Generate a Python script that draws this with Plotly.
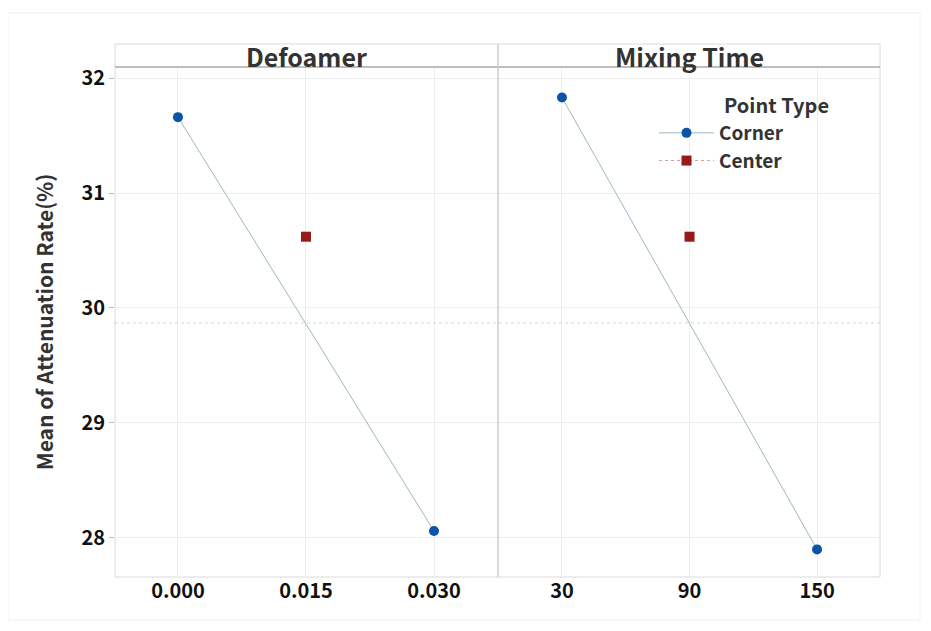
import plotly.graph_objects as go

defoamer_levels = [0.000, 0.030]
defoamer_means = [31.66, 28.06]
defoamer_center = [0.015]
defoamer_center_mean = [30.62]

mixing_levels = [30, 150]
mixing_means = [31.83, 27.90]
mixing_center = [90]
mixing_center_mean = [30.62]

overall_mean = 29.87

panel_titles = ["Defoamer", "Mixing Time"]
legend_title = "Point Type"
defoamer_ticks = [0.000, 0.015, 0.030]
defoamer_ticktext = ["0.000", "0.015", "0.030"]
mixing_ticks = [30, 90, 150]
mixing_ticktext = ["30", "90", "150"]
y_ticks = [28, 29, 30, 31, 32]

FONT = "Noto Sans CJK KR, Noto Sans, sans-serif"
BLUE = "#0a55a5"
RED = "#961a1a"
LINE = "#9bb8c4"
GRID = "#eeeeee"

fig = go.Figure()

fig.add_trace(go.Scatter(x=defoamer_levels, y=defoamer_means, mode="lines+markers",
                         name="Corner", legendgroup="corner",
                         line=dict(color=LINE, width=1),
                         marker=dict(color=BLUE, size=10, symbol="circle"),
                         xaxis="x", yaxis="y"))
fig.add_trace(go.Scatter(x=defoamer_center, y=defoamer_center_mean, mode="lines+markers",
                         name="Center", legendgroup="center",
                         line=dict(color="#c9a0a0", width=1, dash="dot"),
                         marker=dict(color=RED, size=10, symbol="square"),
                         xaxis="x", yaxis="y"))
fig.add_trace(go.Scatter(x=mixing_levels, y=mixing_means, mode="lines+markers",
                         name="Corner", legendgroup="corner", showlegend=False,
                         line=dict(color=LINE, width=1),
                         marker=dict(color=BLUE, size=10, symbol="circle"),
                         xaxis="x2", yaxis="y"))
fig.add_trace(go.Scatter(x=mixing_center, y=mixing_center_mean, mode="markers",
                         name="Center", legendgroup="center", showlegend=False,
                         marker=dict(color=RED, size=10, symbol="square"),
                         xaxis="x2", yaxis="y"))

OFF = 8  # page body margin
W, H = 931, 631
left, right, top, bottom = 115 - OFF, 880 - OFF, 67 - OFF, 577 - OFF
L, R, T, B = left, W - right, top, H - bottom
pw = right - left
ph = bottom - top
split = (498 - OFF - left) / pw

def px_x(sx):
    return (sx - OFF - left) / pw

def px_y(sy):
    return (bottom - (sy - OFF)) / ph

tickfont = dict(family=FONT, size=20, color="#111111", weight="bold")

fig.update_layout(
    width=W, height=H,
    margin=dict(l=L, r=R, t=T, b=B),
    paper_bgcolor="white", plot_bgcolor="white",
    font=dict(family=FONT),
    xaxis=dict(domain=[0, split], range=[-0.00738, 0.0375],
               tickvals=defoamer_ticks, ticktext=defoamer_ticktext,
               showgrid=True, gridcolor=GRID, gridwidth=1, zeroline=False,
               ticks="", tickfont=tickfont, showline=False),
    xaxis2=dict(domain=[split, 1], range=[-0.1, 179.6], anchor="y",
                tickvals=mixing_ticks, ticktext=mixing_ticktext,
                showgrid=True, gridcolor=GRID, gridwidth=1, zeroline=False,
                ticks="", tickfont=tickfont, showline=False),
    yaxis=dict(range=[27.66, 32.096], tickvals=y_ticks,
               showgrid=True, gridcolor=GRID, gridwidth=1, zeroline=False,
               ticks="outside", ticklen=5, tickcolor="#bbbbbb",
               tickfont=tickfont,
               title=dict(text="Mean of Attenuation Rate(%)", standoff=22,
                          font=dict(family=FONT, size=21, color="#333333", weight="bold"))),
    legend=dict(x=px_x(654), y=px_y(114), xanchor="left", yanchor="top",
                bgcolor="rgba(0,0,0,0)",
                font=dict(family=FONT, size=19, color="#333333", weight="bold"),
                itemwidth=55, tracegroupgap=0),
    showlegend=True,
)

hh = 23 / ph
# overall mean reference line
fig.add_shape(type="line", xref="paper", yref="y", x0=0, x1=1, y0=overall_mean, y1=overall_mean,
              line=dict(color="#cfd6da", width=1, dash="dot"))
# plot frame
fig.add_shape(type="rect", xref="paper", yref="paper", x0=0, x1=1, y0=0, y1=1 + hh,
              line=dict(color="#dadada", width=1), layer="below")
# header bottom line
fig.add_shape(type="line", xref="paper", yref="paper", x0=0, x1=1, y0=1, y1=1,
              line=dict(color="#a8a8a8", width=1.5))
# panel divider
fig.add_shape(type="line", xref="paper", yref="paper", x0=split, x1=split, y0=0, y1=1 + hh,
              line=dict(color="#cccccc", width=1.5))
# outer frame
fig.add_shape(type="rect", xref="paper", yref="paper",
              x0=px_x(8), x1=px_x(920), y0=px_y(620), y1=px_y(13),
              line=dict(color="#f0f0f0", width=1), layer="below")

for i, t in enumerate(panel_titles):
    cx = split / 2 if i == 0 else (split + 1) / 2
    fig.add_annotation(text=t, xref="paper", yref="paper", x=cx, y=1 + hh / 2,
                       showarrow=False, xanchor="center", yanchor="middle",
                       font=dict(family=FONT, size=25, color="#333333", weight="bold"))

fig.add_annotation(text=legend_title, xref="paper", yref="paper", x=px_x(722), y=px_y(105),
                   showarrow=False, xanchor="left", yanchor="middle",
                   font=dict(family=FONT, size=20, color="#333333", weight="bold"))

fig.write_html("out.html")
